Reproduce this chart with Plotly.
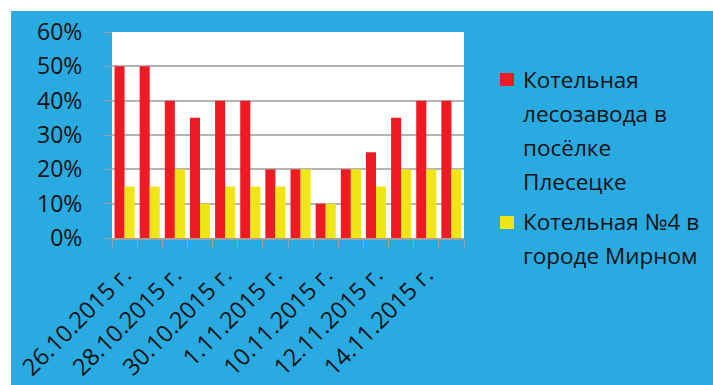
import plotly.graph_objects as go

dates = ["26.10.2015 г.", "27.10.2015 г.", "28.10.2015 г.", "29.10.2015 г.",
         "30.10.2015 г.", "31.10.2015 г.", "1.11.2015 г.", "9.11.2015 г.",
         "10.11.2015 г.", "11.11.2015 г.", "12.11.2015 г.", "13.11.2015 г.",
         "14.11.2015 г.", "15.11.2015 г."]
series1_name = "Котельная лесозавода в посёлке Плесецке"
series2_name = "Котельная №4 в городе Мирном"
series1 = [0.50, 0.50, 0.40, 0.35, 0.40, 0.40, 0.20, 0.20, 0.10, 0.20, 0.25, 0.35, 0.40, 0.40]
series2 = [0.15, 0.15, 0.20, 0.10, 0.15, 0.15, 0.15, 0.20, 0.10, 0.20, 0.15, 0.20, 0.20, 0.20]
tick_labels = [d if i % 2 == 0 else "" for i, d in enumerate(dates)]
legend_lines1 = ["Котельная", "лесозавода в", "посёлке", "Плесецке"]
legend_lines2 = ["Котельная №4 в", "городе Мирном"]

W, H = 713, 385
L, R, T, B = 112, 249, 32, 147
PW, PH = W - L - R, H - T - B

def px(x):
    return (x - L) / PW

def py(y):
    return (H - B - y) / PH

RED = "#ed1c24"
YEL = "#f0e616"
BLUE = "#29abe2"
FONT = "Open Sans"

fig = go.Figure()
fig.add_trace(go.Bar(x=dates, y=series1, name=series1_name, marker_color=RED,
                     marker_line_width=0))
fig.add_trace(go.Bar(x=dates, y=series2, name=series2_name, marker_color=YEL,
                     marker_line_width=0))

shapes = [
    dict(type="rect", xref="paper", yref="paper", x0=px(0), x1=px(W), y0=py(11), y1=py(0),
         fillcolor="white", line_width=0, layer="above"),
    dict(type="rect", xref="paper", yref="paper", x0=px(0), x1=px(11), y0=py(H), y1=py(0),
         fillcolor="white", line_width=0, layer="above"),
    dict(type="rect", xref="paper", yref="paper", x0=px(500), x1=px(514), y0=py(86), y1=py(73),
         fillcolor=RED, line_width=0),
    dict(type="rect", xref="paper", yref="paper", x0=px(500), x1=px(514), y0=py(229), y1=py(216),
         fillcolor=YEL, line_width=0),
]

annotations = []
baselines1 = [87, 121, 155, 189]
baselines2 = [229, 263]
for txt, bl in list(zip(legend_lines1, baselines1)) + list(zip(legend_lines2, baselines2)):
    annotations.append(dict(text=txt, xref="paper", yref="paper", x=px(521), y=py(bl - 8),
                            xanchor="left", yanchor="middle", showarrow=False,
                            font=dict(family=FONT, size=22.5, color="#111111")))

fig.update_layout(
    width=W, height=H,
    margin=dict(l=L, r=R, t=T, b=B),
    paper_bgcolor=BLUE, plot_bgcolor="white",
    barmode="group", bargap=0.2, bargroupgap=0,
    showlegend=False,
    shapes=shapes, annotations=annotations,
    font=dict(family=FONT, size=22, color="#111111"),
    xaxis=dict(type="category", tickmode="array", tickvals=dates, ticktext=tick_labels,
               tickangle=-45, tickson="boundaries", ticks="outside", ticklen=8,
               tickcolor="#a0a0a0", showline=True, linecolor="#a0a0a0", linewidth=1.5,
               showgrid=False, ticklabelstandoff=12, automargin=False,
               tickfont=dict(size=23.5, family=FONT, color="#111111")),
    yaxis=dict(range=[0, 0.6], dtick=0.1, tickformat=".0%", ticks="outside", ticklen=7,
               tickcolor="#a0a0a0", showgrid=True, gridcolor="#b4b4b4", gridwidth=1.5,
               zeroline=False, showline=False, ticklabelstandoff=17, automargin=False,
               tickfont=dict(size=23, family=FONT, color="#111111")),
)

fig.write_html("out.html")
